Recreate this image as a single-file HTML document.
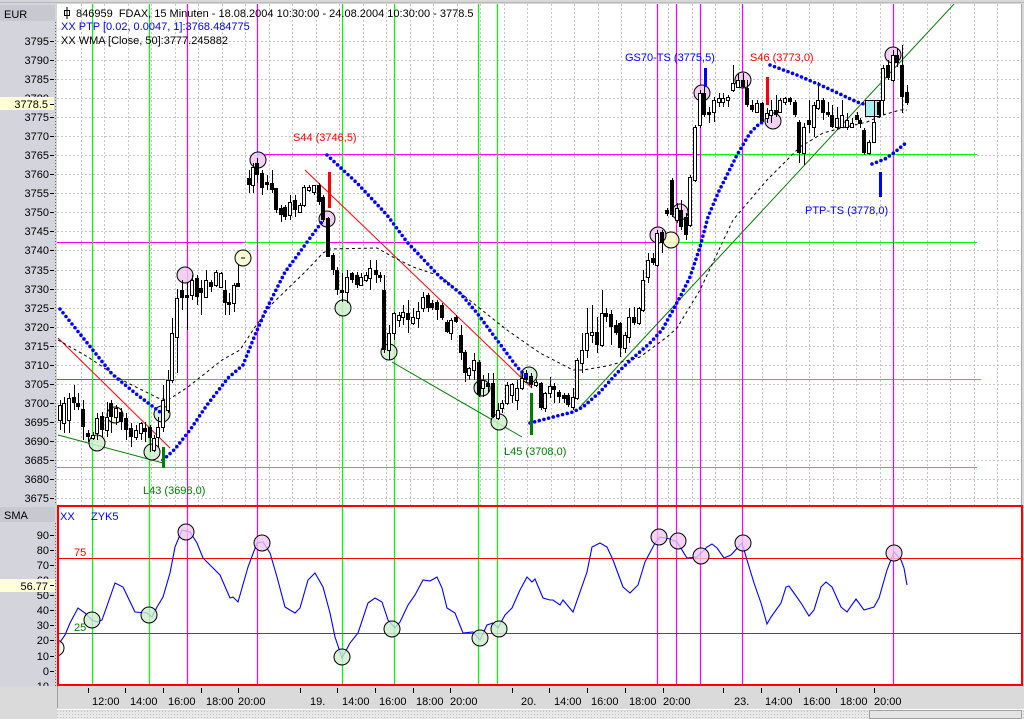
<!DOCTYPE html>
<html><head><meta charset="utf-8">
<style>
html,body{margin:0;padding:0;background:#d8d8d8;}
svg{display:block;}
text{font-family:"Liberation Sans",Arial,sans-serif;font-size:11px;}
</style></head>
<body>
<svg width="1024" height="719" viewBox="0 0 1024 719" xmlns="http://www.w3.org/2000/svg">
<defs>
<clipPath id="mainclip"><rect x="57" y="4" width="964" height="501"/></clipPath>
<clipPath id="lowclip"><rect x="58" y="506" width="964" height="179"/></clipPath>
<clipPath id="laxclip"><rect x="0" y="505" width="57" height="181"/></clipPath>
<pattern id="hatch" width="3" height="3" patternUnits="userSpaceOnUse"><rect width="3" height="3" fill="#e8e8e8"/><rect width="1" height="1" fill="#c4c4c4"/></pattern>
</defs>

<!-- backgrounds -->
<rect x="0" y="0" width="1024" height="719" fill="#d8d8d8"/>
<rect x="0" y="0" width="57" height="505" fill="#d4d4dc"/>
<rect x="0" y="505" width="57" height="181" fill="#d4d4dc"/>
<rect x="57" y="4" width="964" height="501" fill="#ffffff"/>
<rect x="57" y="505" width="966" height="181" fill="#ffffff"/>
<line x1="0" y1="2.5" x2="1024" y2="2.5" stroke="#b8b8b8"/>
<line x1="1021.5" y1="4" x2="1021.5" y2="505" stroke="#a8a8a8"/>
<!-- bottom axis -->
<rect x="0" y="686" width="1024" height="23" fill="#dadada"/>
<line x1="57.5" y1="686" x2="57.5" y2="708" stroke="#a0a0a0"/>
<line x1="57" y1="709.5" x2="1024" y2="709.5" stroke="#ffffff"/>
<rect x="57" y="711" width="967" height="8" fill="url(#hatch)"/>
<rect x="0" y="709" width="57" height="10" fill="#dadada"/>
<rect x="869.5" y="710.5" width="152" height="8" fill="#e4e4e4" stroke="#a0a0a0"/>

<!-- EUR / SMA headers -->
<rect x="0" y="5" width="55" height="16" fill="#c8c8d0"/>
<text x="4" y="18" fill="#000">EUR</text>
<rect x="0" y="507" width="55" height="15" fill="#c8c8d0"/>
<text x="4" y="519" fill="#000">SMA</text>
<line x1="55.5" y1="22" x2="55.5" y2="505" stroke="#666" stroke-dasharray="1 2"/>
<line x1="55.5" y1="523" x2="55.5" y2="686" stroke="#666" stroke-dasharray="1 2"/>

<!-- grid -->
<g stroke="#c4c4c4" stroke-dasharray="2 2" fill="none" clip-path="url(#mainclip)">
<path d="M57 41.5H1020M57 60.5H1020M57 79.5H1020M57 98.5H1020M57 117.5H1020M57 136.5H1020M57 155.5H1020M57 174.5H1020M57 193.5H1020M57 212.5H1020M57 231.5H1020M57 250.5H1020M57 270.5H1020M57 289.5H1020M57 308.5H1020M57 327.5H1020M57 346.5H1020M57 365.5H1020M57 384.5H1020M57 403.5H1020M57 422.5H1020M57 441.5H1020M57 460.5H1020M57 479.5H1020M57 498.5H1020"/>
<path d="M81.5 4V505M104.5 4V505M128.5 4V505M151.5 4V505M175.5 4V505M198.5 4V505M222.5 4V505M245.5 4V505M269.5 4V505M292.5 4V505M316.5 4V505M339.5 4V505M363.5 4V505M386.5 4V505M410.5 4V505M433.5 4V505M457.5 4V505M480.5 4V505M504.5 4V505M527.5 4V505M551.5 4V505M574.5 4V505M598.5 4V505M621.5 4V505M645.5 4V505M668.5 4V505M692.5 4V505M715.5 4V505M739.5 4V505M762.5 4V505M786.5 4V505M809.5 4V505M833.5 4V505M856.5 4V505M880.5 4V505M903.5 4V505M927.5 4V505M950.5 4V505M974.5 4V505M997.5 4V505"/>
</g>

<!-- price axis labels -->
<g fill="#000" text-anchor="end">
<text x="49" y="45">3795</text><text x="49" y="64">3790</text><text x="49" y="83">3785</text><text x="49" y="102">3780</text>
<text x="49" y="121">3775</text><text x="49" y="140">3770</text><text x="49" y="159">3765</text><text x="49" y="178">3760</text>
<text x="49" y="197">3755</text><text x="49" y="216">3750</text><text x="49" y="235">3745</text><text x="49" y="254">3740</text>
<text x="49" y="274">3735</text><text x="49" y="293">3730</text><text x="49" y="312">3725</text><text x="49" y="331">3720</text>
<text x="49" y="350">3715</text><text x="49" y="369">3710</text><text x="49" y="388">3705</text><text x="49" y="407">3700</text>
<text x="49" y="426">3695</text><text x="49" y="445">3690</text><text x="49" y="464">3685</text><text x="49" y="483">3680</text>
<text x="49" y="502">3675</text>
</g>
<path d="M50 41.5H54M50 60.5H54M50 79.5H54M50 98.5H54M50 117.5H54M50 136.5H54M50 155.5H54M50 174.5H54M50 193.5H54M50 212.5H54M50 231.5H54M50 250.5H54M50 270.5H54M50 289.5H54M50 308.5H54M50 327.5H54M50 346.5H54M50 365.5H54M50 384.5H54M50 403.5H54M50 422.5H54M50 441.5H54M50 460.5H54M50 479.5H54M50 498.5H54" stroke="#000"/>
<rect x="0" y="97" width="54" height="13" fill="#ffffd8"/>
<text x="48" y="108" text-anchor="end" fill="#000">3778.5</text>
<line x1="50" y1="104.5" x2="54" y2="104.5" stroke="#000"/>

<!-- lower axis labels -->
<g clip-path="url(#laxclip)">
<g fill="#000" text-anchor="end">
<text x="49" y="539">90</text><text x="49" y="554">80</text><text x="49" y="569">70</text><text x="49" y="584">60</text>
<text x="49" y="599">50</text><text x="49" y="614">40</text><text x="49" y="629">30</text><text x="49" y="644">20</text>
<text x="49" y="660">10</text><text x="49" y="675">0</text><text x="49" y="690">-10</text>
</g>
<path d="M50 535.5H54M50 550.5H54M50 565.5H54M50 580.5H54M50 595.5H54M50 610.5H54M50 625.5H54M50 640.5H54M50 656.5H54M50 671.5H54M50 686.5H54" stroke="#000"/>
</g>
<rect x="0" y="579" width="55" height="13" fill="#ffffd8"/>
<text x="48" y="590" text-anchor="end" fill="#000">56.77</text>
<line x1="50" y1="585.5" x2="54" y2="585.5" stroke="#000"/>

<!-- x axis ticks & labels -->
<path d="M88.5 688V693M125.5 688V693M163.5 688V693M201.5 688V693M238.5 688V693M300.5 688V693M337.5 688V693M375.5 688V693M413.5 688V693M450.5 688V693M512.5 688V693M549.5 688V693M587.5 688V693M625.5 688V693M663.5 688V693M723.5 688V693M761.5 688V693M799.5 688V693M836.5 688V693M874.5 688V693" stroke="#000"/>
<g fill="#000">
<text x="92" y="705">12:00</text><text x="130" y="705">14:00</text><text x="168" y="705">16:00</text><text x="206" y="705">18:00</text><text x="238" y="705">20:00</text>
<text x="310" y="705">19.</text><text x="342" y="705">14:00</text><text x="379" y="705">16:00</text><text x="416" y="705">18:00</text><text x="450" y="705">20:00</text>
<text x="521" y="705">20.</text><text x="554" y="705">14:00</text><text x="591" y="705">16:00</text><text x="629" y="705">18:00</text><text x="663" y="705">20:00</text>
<text x="734" y="705">23.</text><text x="765" y="705">14:00</text><text x="803" y="705">16:00</text><text x="840" y="705">18:00</text><text x="874" y="705">20:00</text>
</g>

<!-- main panel content -->
<g clip-path="url(#mainclip)">
<!-- horizontal level lines -->
<line x1="258" y1="154.5" x2="700" y2="154.5" stroke="#ff00ff"/>
<line x1="700" y1="154.5" x2="977" y2="154.5" stroke="#00ff00"/>
<line x1="57" y1="242.5" x2="977" y2="242.5" stroke="#ff00ff"/>
<line x1="245" y1="242.5" x2="330" y2="242.5" stroke="#00ff00"/>
<line x1="658" y1="242.5" x2="977" y2="242.5" stroke="#00ff00"/>
<line x1="57" y1="379.5" x2="981" y2="379.5" stroke="#00ff00"/>
<line x1="57" y1="379.5" x2="165" y2="379.5" stroke="#ff00ff"/>
<line x1="478" y1="379.5" x2="537" y2="379.5" stroke="#ff00ff"/>
<line x1="57" y1="467.5" x2="977" y2="467.5" stroke="#00ff00"/>
</g>

<!-- vertical lines (both panels) -->
<g stroke-width="1.2">
<path d="M92.5 4V686M149.5 4V686M342.5 4V686M394.5 4V686M478.5 4V686M497.5 4V686" stroke="#00ff00"/>
<path d="M187.5 4V686M257.5 4V686M657.5 4V686M676.5 4V686M700.5 4V686M742.5 4V686M893.5 4V686" stroke="#ff00ff"/>
</g>

<g clip-path="url(#mainclip)">
<!-- trend lines -->
<line x1="58" y1="338" x2="170" y2="448" stroke="#ff0000"/>
<line x1="305" y1="170" x2="532" y2="388" stroke="#ff0000"/>
<line x1="58" y1="435" x2="163" y2="463" stroke="#008000"/>
<line x1="392" y1="362" x2="522" y2="437" stroke="#008000"/>
<line x1="580" y1="407" x2="955" y2="3" stroke="#008000"/>

<!-- WMA dashed -->
<polyline fill="none" stroke="#000" stroke-dasharray="3 3" points="58,340 88,357 122,380 158,398 168,400 188,387 222,360 240,350 255,327 273,303 307,270 323,253 330,249 377,248 393,257 413,267 440,276 473,303 507,330 540,353 573,370 583,370 607,366 640,357 667,337 677,328 700,290 733,220 767,180 800,147 823,133 850,126 867,122 883,115 900,110 907,110"/>

<!-- circles main -->
<g stroke="#000" stroke-width="1">
<g fill="#cdeecd" fill-opacity="0.85">
<circle cx="97" cy="443" r="8"/><circle cx="152" cy="452" r="8"/><circle cx="162" cy="414" r="8"/>
<circle cx="343" cy="308" r="8"/><circle cx="389" cy="352" r="8"/><circle cx="482" cy="388" r="8"/>
<circle cx="499" cy="422" r="8"/><circle cx="529" cy="375" r="8"/>
</g>
<g fill="#f8f8cc" fill-opacity="0.85">
<circle cx="115" cy="415" r="8"/><circle cx="243" cy="258" r="8"/><circle cx="671" cy="240" r="8"/>
</g>
<g fill="#f0c8f0" fill-opacity="0.85">
<circle cx="185" cy="275" r="8"/><circle cx="258" cy="160" r="8"/><circle cx="327" cy="219" r="8"/>
<circle cx="658" cy="235" r="8"/><circle cx="680" cy="212" r="8"/><circle cx="702" cy="93" r="8"/>
<circle cx="743" cy="80" r="8"/><circle cx="773" cy="121" r="8"/><circle cx="893" cy="55" r="8"/>
</g>
</g>
<line x1="241" y1="258" x2="245" y2="258" stroke="#000"/>
<rect x="865.5" y="100.5" width="15" height="16" fill="#a8f0f0" stroke="#000"/>

<!-- candles: wicks -->
<path fill="none" stroke="#000" stroke-width="1" d="M60.5 400V430M64.5 397V433M69.5 393V433M74.5 385V410M78.5 393V410M83.5 400V440M88.5 430V442M93.5 432V440M97.5 413V440M102.5 412V437M107.5 402V437M111.5 400V433M116.5 405V425M121.5 408V430M126.5 413V440M131.5 423V447M136.5 425V440M141.5 422V440M145.5 422V442M150.5 425V452M154.5 435V452M158.5 417V447M163.5 385V432M168.5 370V413M172.5 318V383M177.5 289V373M182.5 280V310M187.5 283V330M192.5 275V300M197.5 275V305M201.5 280V315M206.5 270V297M211.5 280V292M216.5 270V287M221.5 272V288M225.5 280V315M229.5 293V315M234.5 283V312M238.5 265V287M249.5 170V193M253.5 163V193M257.5 158V183M262.5 170V195M267.5 175V190M272.5 170V193M276.5 188V213M281.5 205V222M285.5 205V220M290.5 195V220M295.5 195V217M300.5 203V213M304.5 185V207M309.5 185V192M314.5 185V195M319.5 183V205M323.5 195V222M328.5 217V257M333.5 253V275M337.5 267V295M342.5 273V302M347.5 270V303M352.5 272V283M357.5 272V288M361.5 273V285M366.5 272V282M370.5 260V290M376.5 260V283M380.5 272V282M384.5 275V353M389.5 325V360M394.5 312V340M399.5 312V327M403.5 305V325M408.5 300V333M413.5 308V325M418.5 302V328M423.5 292V312M428.5 293V312M432.5 300V310M437.5 300V320M442.5 303V320M447.5 320V333M451.5 318V340M456.5 315V323M461.5 325V360M465.5 350V382M469.5 367V380M474.5 353V380M479.5 360V397M483.5 375V397M488.5 373V393M493.5 373V418M498.5 403V420M502.5 400V413M507.5 382V405M512.5 383V403M517.5 380V410M522.5 373V390M526.5 370V383M531.5 373V388M536.5 380V387M541.5 382V410M545.5 392V412M550.5 377V398M554.5 383V403M559.5 390V403M564.5 393V403M568.5 393V407M573.5 388V410M577.5 358V400M582.5 333V373M587.5 308V358M592.5 305V343M597.5 317V353M602.5 290V347M606.5 308V322M611.5 310V345M616.5 320V335M620.5 322V357M625.5 332V353M629.5 308V343M634.5 307V325M639.5 307V325M643.5 270V312M648.5 253V283M653.5 253V265M657.5 230V267M662.5 230V253M667.5 208V216M672.5 178V217M677.5 203V223M681.5 200V230M686.5 213V240M690.5 175V227M695.5 125V182M700.5 90V128M704.5 83V117M709.5 107V123M714.5 97V122M719.5 93V107M723.5 93V107M728.5 95V107M733.5 65V92M738.5 73V88M743.5 73V88M747.5 80V107M752.5 100V112M757.5 100V113M762.5 102V123M767.5 108V123M771.5 100V123M776.5 95V117M780.5 98V113M785.5 97V105M790.5 97V105M795.5 100V117M799.5 120V163M804.5 123V165M809.5 100V133M814.5 102V137M818.5 82V110M823.5 98V120M828.5 102V117M832.5 105V128M837.5 107V130M842.5 100V128M847.5 113V130M852.5 118V128M857.5 112V120M860.5 118V128M864.5 128V155M869.5 140V155M874.5 100V143M879.5 100V118M883.5 65V115M888.5 60V80M893.5 50V82M897.5 48V67M902.5 45V113M907.5 85V105"/>
<!-- black bodies -->
<path fill="#000" d="M72 397h4v6h-4zM76 403h4v4h-4zM81 409h4v18h-4zM86 433h4v4h-4zM100 416h4v14h-4zM109 403h4v14h-4zM119 412h4v10h-4zM124 418h4v12h-4zM129 428h4v9h-4zM143 428h4v4h-4zM148 427h4v11h-4zM180 290h4v8h-4zM185 295h4v3h-4zM195 278h4v19h-4zM199 288h4v5h-4zM209 282h4v5h-4zM223 290h4v13h-4zM227 302h4v3h-4zM236 283h4v4h-4zM247 178h4v7h-4zM255 163h4v12h-4zM260 173h4v15h-4zM265 182h4v3h-4zM270 183h4v7h-4zM274 188h4v22h-4zM279 208h4v7h-4zM283 207h4v10h-4zM293 200h4v10h-4zM317 185h4v17h-4zM321 197h4v23h-4zM326 218h4v39h-4zM331 255h4v15h-4zM335 270h4v20h-4zM340 290h4v3h-4zM350 273h4v7h-4zM355 275h4v10h-4zM374 270h4v5h-4zM378 275h4v3h-4zM382 290h4v60h-4zM406 313h4v7h-4zM426 295h4v13h-4zM430 303h4v5h-4zM435 302h4v8h-4zM440 305h4v13h-4zM445 322h4v10h-4zM454 317h4v5h-4zM459 335h4v18h-4zM463 352h4v21h-4zM477 362h4v33h-4zM486 383h4v4h-4zM491 383h4v34h-4zM524 373h4v7h-4zM529 376h4v9h-4zM539 383h4v25h-4zM552 386h4v4h-4zM557 392h4v5h-4zM562 395h4v4h-4zM566 395h4v10h-4zM595 332h4v13h-4zM604 313h4v4h-4zM609 314h4v13h-4zM614 325h4v8h-4zM618 323h4v25h-4zM632 317h4v6h-4zM651 258h4v5h-4zM660 232h4v11h-4zM665 210h4v4h-4zM670 180h4v35h-4zM679 210h4v17h-4zM684 217h4v18h-4zM702 93h4v22h-4zM707 112h4v3h-4zM741 80h4v7h-4zM745 88h4v17h-4zM750 105h4v5h-4zM760 103h4v19h-4zM774 110h4v5h-4zM788 98h4v4h-4zM793 102h4v13h-4zM797 122h4v31h-4zM807 120h4v5h-4zM821 100h4v13h-4zM826 112h4v3h-4zM830 115h4v12h-4zM855 115h4v5h-4zM858 120h4v4h-4zM862 130h4v23h-4zM877 102h4v13h-4zM886 65h4v13h-4zM895 55h4v8h-4zM900 65h4v32h-4zM905 92h4v11h-4z"/>
<!-- white bodies -->
<path fill="#fff" stroke="#000" stroke-width="1" d="M58.5 405.5h3v15h-3zM62.5 403.5h3v20h-3zM67.5 398.5h3v22h-3zM91.5 435.5h3v3h-3zM95.5 418.5h3v15h-3zM105.5 417.5h3v13h-3zM114.5 408.5h3v9h-3zM134.5 430.5h3v7h-3zM139.5 423.5h3v10h-3zM152.5 438.5h3v12h-3zM156.5 427.5h3v10h-3zM161.5 400.5h3v27h-3zM166.5 380.5h3v30h-3zM170.5 333.5h3v47h-3zM175.5 298.5h3v39h-3zM190.5 280.5h3v15h-3zM204.5 280.5h3v17h-3zM214.5 272.5h3v13h-3zM219.5 273.5h3v14h-3zM232.5 285.5h3v18h-3zM251.5 167.5h3v18h-3zM288.5 202.5h3v13h-3zM298.5 205.5h3v7h-3zM302.5 187.5h3v18h-3zM307.5 187.5h3v3h-3zM312.5 185.5h3v7h-3zM345.5 277.5h3v15h-3zM359.5 277.5h3v8h-3zM364.5 275.5h3v5h-3zM368.5 268.5h3v10h-3zM387.5 333.5h3v17h-3zM392.5 313.5h3v20h-3zM397.5 315.5h3v5h-3zM401.5 312.5h3v5h-3zM411.5 317.5h3v6h-3zM416.5 311.5h3v7h-3zM421.5 297.5h3v11h-3zM449.5 320.5h3v13h-3zM467.5 368.5h3v7h-3zM472.5 360.5h3v10h-3zM481.5 380.5h3v8h-3zM496.5 410.5h3v8h-3zM500.5 403.5h3v5h-3zM505.5 385.5h3v18h-3zM510.5 384.5h3v11h-3zM515.5 388.5h3v12h-3zM520.5 378.5h3v10h-3zM534.5 382.5h3v3h-3zM543.5 393.5h3v15h-3zM548.5 386.5h3v7h-3zM571.5 397.5h3v10h-3zM575.5 360.5h3v38h-3zM580.5 350.5h3v13h-3zM585.5 333.5h3v17h-3zM590.5 332.5h3v3h-3zM600.5 313.5h3v32h-3zM623.5 335.5h3v13h-3zM627.5 317.5h3v20h-3zM637.5 308.5h3v15h-3zM641.5 280.5h3v30h-3zM646.5 260.5h3v17h-3zM655.5 233.5h3v32h-3zM675.5 208.5h3v12h-3zM688.5 177.5h3v48h-3zM693.5 127.5h3v53h-3zM698.5 93.5h3v32h-3zM712.5 100.5h3v12h-3zM717.5 98.5h3v4h-3zM721.5 98.5h3v4h-3zM726.5 97.5h3v3h-3zM731.5 83.5h3v7h-3zM736.5 80.5h3v7h-3zM755.5 103.5h3v9h-3zM765.5 113.5h3v5h-3zM769.5 110.5h3v5h-3zM778.5 100.5h3v12h-3zM783.5 98.5h3v4h-3zM802.5 127.5h3v26h-3zM812.5 105.5h3v22h-3zM816.5 100.5h3v8h-3zM835.5 118.5h3v9h-3zM840.5 115.5h3v12h-3zM845.5 120.5h3v7h-3zM850.5 123.5h3v4h-3zM867.5 142.5h3v11h-3zM872.5 122.5h3v20h-3zM881.5 68.5h3v32h-3zM891.5 55.5h3v25h-3z"/>

<!-- PTP dots -->
<g fill="none" stroke="#0000ff" stroke-width="3.6" stroke-linecap="round" stroke-dasharray="0 4.8">
<polyline points="60,309 88,344 112,374 135,393 160,412"/>
<polyline points="163,460 175,449 190,430 207,405 228,378 243,365 255,335 265,312 275,292 285,272 297,256 310,238 324,219"/>
<polyline points="327,155 357,183 387,215 407,242 440,277 460,293 477,313 497,340 517,367 527,377"/>
<polyline points="530,423 553,417 573,412 583,407 600,392 617,373 633,358 650,343 662,330 672,312 682,293 690,277 700,247 708,217 718,193 728,173 737,155 750,133 760,123 766,122"/>
<polyline points="770,65 797,75 827,88 857,102 867,105"/>
<polyline points="872,164 885,159 895,152 907,142"/>
</g>

<!-- signal bars -->
<line x1="163.5" y1="447" x2="163.5" y2="468" stroke="#008000" stroke-width="3"/>
<line x1="329.5" y1="172" x2="329.5" y2="208" stroke="#ff0000" stroke-width="3"/>
<line x1="531.5" y1="393" x2="531.5" y2="435" stroke="#008000" stroke-width="3"/>
<line x1="705.5" y1="68" x2="705.5" y2="87" stroke="#0000ff" stroke-width="3"/>
<line x1="767.5" y1="77" x2="767.5" y2="105" stroke="#ff0000" stroke-width="3"/>
<line x1="880.5" y1="172" x2="880.5" y2="197" stroke="#0000ff" stroke-width="3"/>

<!-- signal labels -->
<text x="143" y="494" fill="#008000">L43 (3698,0)</text>
<text x="293" y="141" fill="#ff0000">S44 (3746,5)</text>
<text x="504" y="455" fill="#008000">L45 (3708,0)</text>
<text x="625" y="61" fill="#0000ff">GS70-TS (3775,5)</text>
<text x="750" y="61" fill="#ff0000">S46 (3773,0)</text>
<text x="805" y="214" fill="#0000ff">PTP-TS (3778,0)</text>

<!-- header text -->
<rect x="64.5" y="10.5" width="5" height="5" fill="none" stroke="#000"/>
<line x1="67" y1="7" x2="67" y2="19" stroke="#000"/>
<text x="76" y="17" fill="#000">846959&#160; FDAX, 15 Minuten - 18.08.2004 10:30:00 - 24.08.2004 10:30:00 - 3778.5</text>
<text x="61" y="30" fill="#0000ff">XX PTP [0.02, 0.0047, 1]:3768.484775</text>
<text x="61" y="44" fill="#000">XX WMA [Close, 50]:3777.245882</text>
</g>

<!-- lower panel -->
<g clip-path="url(#lowclip)">
<line x1="57" y1="558.5" x2="1023" y2="558.5" stroke="#ff0000"/>
<line x1="57" y1="633.5" x2="1023" y2="633.5" stroke="#008000"/>
<polyline fill="none" stroke="#0000ff" stroke-width="1.1" points="58,645 65,635 70,623 78,608 85,613 92,620 97,622 102,620 108,603 115,583 123,587 135,612 147,613 152,617 157,607 163,597 170,573 175,547 182,530 190,532 197,543 203,558 210,565 220,575 230,598 233,597 238,602 248,567 257,543 263,542 270,553 277,577 285,607 295,613 300,608 308,580 315,573 323,587 330,613 335,637 342,658 350,643 358,633 368,603 375,598 382,602 388,620 395,628 400,622 408,605 415,595 423,580 430,581 437,577 442,588 447,608 455,613 463,633 473,632 480,640 487,625 493,623 498,628 505,615 512,608 520,590 527,577 532,582 535,579 543,598 550,600 553,600 560,605 563,600 573,612 587,572 592,547 600,543 607,547 613,560 623,587 630,593 638,585 645,562 655,543 660,537 670,539 677,542 687,558 697,557 707,547 712,544 717,548 724,558 731,555 742,543 747,560 754,583 761,603 767,624 771,617 781,603 786,587 789,586 794,593 801,603 809,616 814,610 821,587 826,582 832,587 841,607 847,612 856,599 864,610 874,607 879,598 887,570 894,552 901,560 904,568 907,585"/>
<g stroke="#000" stroke-width="1">
<circle cx="56" cy="648" r="8" fill="#f4f4e8" fill-opacity="0.6"/>
<g fill="#cdeecd" fill-opacity="0.8">
<circle cx="92" cy="620" r="8"/><circle cx="149" cy="615" r="8"/><circle cx="342" cy="657" r="8"/>
<circle cx="392" cy="629" r="8"/><circle cx="480" cy="638" r="8"/><circle cx="499" cy="629" r="8"/>
</g>
<g fill="#f0c8f0" fill-opacity="0.8">
<circle cx="186" cy="532" r="8"/><circle cx="262" cy="543" r="8"/><circle cx="659" cy="537" r="8"/>
<circle cx="678" cy="541" r="8"/><circle cx="701" cy="556" r="8"/><circle cx="743" cy="543" r="8"/>
<circle cx="894" cy="553" r="8"/>
</g>
</g>
<text x="60" y="520" fill="#0000ff">XX</text>
<text x="91" y="520" fill="#0000ff">ZYK5</text>
<text x="74" y="556" fill="#ff0000">75</text>
<text x="74" y="631" fill="#008000">25</text>
</g>
<rect x="58" y="506" width="964" height="179" fill="none" stroke="#ff0000" stroke-width="2"/>
</svg>
</body></html>
